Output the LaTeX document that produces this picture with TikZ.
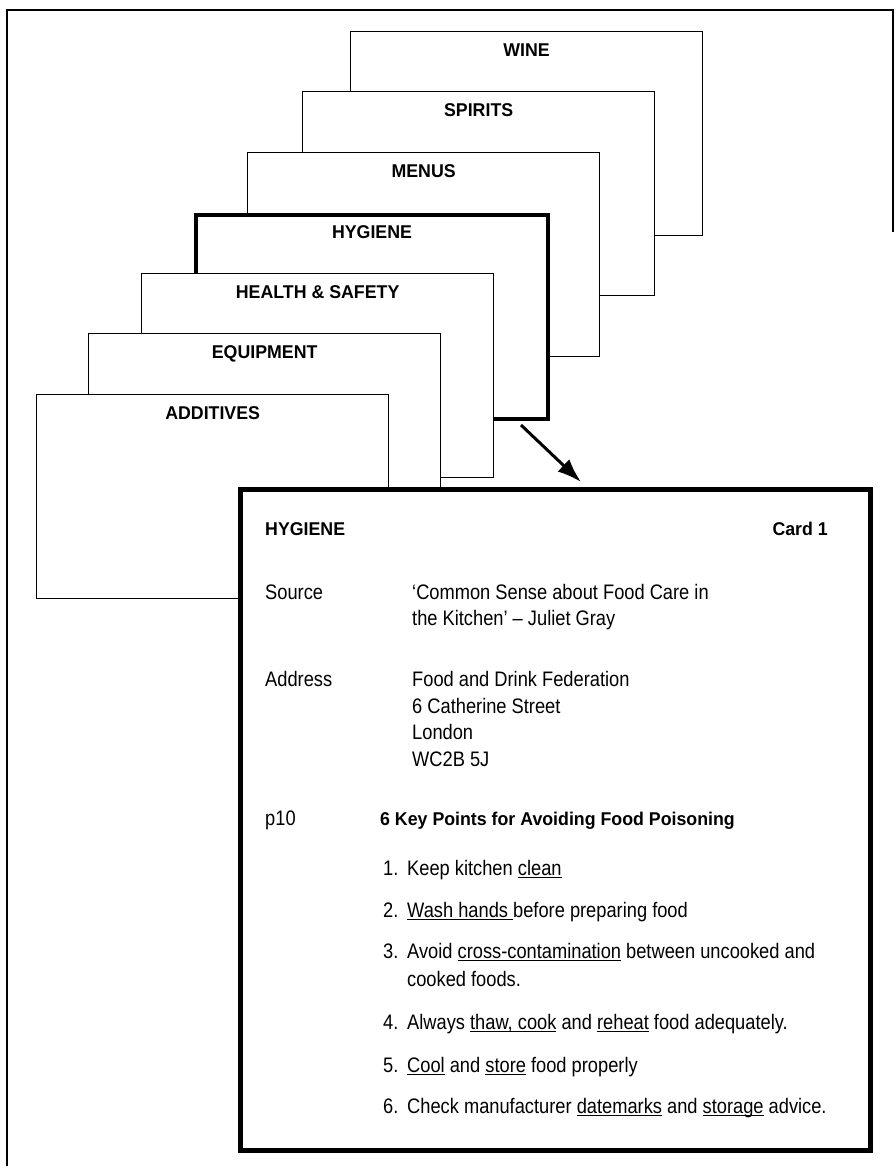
\documentclass[tikz,border=0pt]{standalone}
\usepackage{fontspec}
\setmainfont{Liberation Sans}[FakeStretch=0.87]
\newfontfamily\headfont{Liberation Sans}[FakeStretch=0.96]
\usetikzlibrary{positioning,arrows.meta}

% underline at a fixed depth
\newcommand{\ulin}[1]{\setbox0=\hbox{#1}\rlap{\rule[-2.4pt]{\wd0}{0.9pt}}\box0\relax}

\begin{document}
\begin{tikzpicture}[x=1pt,y=-1pt,
		card/.style={draw,fill=white,line width=1.3pt,inner sep=0pt,anchor=north west,minimum width=352pt,minimum height=204pt},
		hotcard/.style={card,line width=4pt},
		cardtitle/.style={inner sep=0pt,font=\headfont\bfseries\fontsize{18.5pt}{22pt}\selectfont},
		detail/.style={draw,fill=white,line width=4.5pt,inner sep=0pt,anchor=north west,minimum width=630pt,minimum height=661pt},
		plain/.style={inner sep=0pt,anchor=base west,font=\fontsize{21pt}{27pt}\selectfont},
		heading/.style={inner sep=0pt,anchor=base west,font=\headfont\bfseries\fontsize{18.5pt}{22pt}\selectfont},
		pointer/.style={-{Latex[length=24pt,width=17pt]},line width=3pt},
		frame/.style={line width=1.3pt}]

		\useasboundingbox (0,0) rectangle (895,1168);
		\draw[frame] (7,1166) -- (7,10) -- (893,10) -- (893,232);

		% the stack, back to front
		\node[card]		(wine)		at (350,31)		{};
		\node[cardtitle,below=12.5pt of wine.north]			(wineT)		{WINE};
		\node[card]		(spirits)	at (302,91)		{};
		\node[cardtitle,below=12.5pt of spirits.north]		(spiritsT)	{SPIRITS};
		\node[card]		(menus)		at (247,152)	{};
		\node[cardtitle,below=12.5pt of menus.north]		(menusT)	{MENUS};
		\node[hotcard]	(hygiene)	at (194,213)	{};
		\node[cardtitle,below=12.5pt of hygiene.north]		(hygieneT)	{HYGIENE};
		\node[card]		(health)	at (141,273)	{};
		\node[cardtitle,below=12.5pt of health.north]		(healthT)	{HEALTH \& SAFETY};
		\node[card]		(equipment)	at (88,333)		{};
		\node[cardtitle,below=12.5pt of equipment.north]	(equipmentT)	{EQUIPMENT};
		\node[card]		(additives)	at (36,394)		{};
		\node[cardtitle,below=12.5pt of additives.north]	(additivesT)	{ADDITIVES};

		\coordinate (ptail) at (521,425);
		\coordinate (phead) at (581,482);
		\draw[pointer] (ptail) -- (phead);

		% the card pulled out
		\node[detail]	(front)		at (238,487)	{};
		\node[heading]				(fronthead)	at (265,535)	{HYGIENE};
		\node[heading,anchor=base east]	(frontno)	at (828,535)	{Card 1};

		\node[plain]	(srcL)		at (265,599)	{Source};
		\node[plain]	(src1)		at (412,599)	{‘Common Sense about Food Care in};
		\node[plain]	(src2)		at (412,625)	{the Kitchen’ – Juliet Gray};

		\node[plain]	(addrL)		at (265,686)	{Address};
		\node[plain]	(addr1)		at (412,686)	{Food and Drink Federation};
		\node[plain]	(addr2)		at (412,713)	{6 Catherine Street};
		\node[plain]	(addr3)		at (412,739)	{London};
		\node[plain]	(addr4)		at (412,766)	{WC2B 5J};

		\node[plain]	(pageL)		at (265,825)	{p10};
		\node[heading]	(keytitle)	at (380,825)	{6 Key Points for Avoiding Food Poisoning};

		\node[plain]	(k1)	at (383,875)	{\makebox[24pt][l]{1.}Keep kitchen \ulin{clean}};
		\node[plain]	(k2)	at (383,917)	{\makebox[24pt][l]{2.}\ulin{Wash hands }before preparing food};
		\node[plain]	(k3)	at (383,958)	{\makebox[24pt][l]{3.}Avoid \ulin{cross-contamination} between uncooked and};
		\node[plain]	(k3b)	at (407,986)	{cooked foods.};
		\node[plain]	(k4)	at (383,1029)	{\makebox[24pt][l]{4.}Always \ulin{thaw, cook} and \ulin{reheat} food adequately.};
		\node[plain]	(k5)	at (383,1072)	{\makebox[24pt][l]{5.}\ulin{Cool} and \ulin{store} food properly};
		\node[plain]	(k6)	at (383,1113)	{\makebox[24pt][l]{6.}Check manufacturer \ulin{datemarks} and \ulin{storage} advice.};
	\end{tikzpicture}
\end{document}
